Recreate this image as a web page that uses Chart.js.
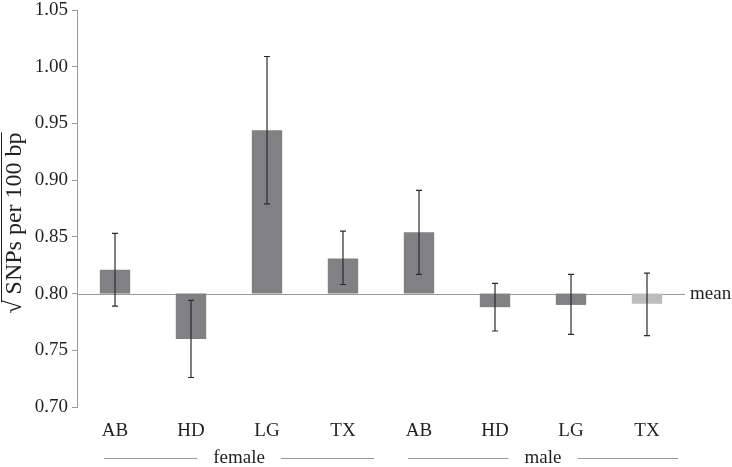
<!DOCTYPE html>
<html>
<head>
<meta charset="utf-8">
<script src="https://cdn.jsdelivr.net/npm/chart.js@4"></script>
<style>
  html, body { margin: 0; padding: 0; background: #fff; }
  #wrap { width: 732px; height: 467px; }
</style>
</head>
<body>
<div id="wrap"><canvas id="myChart"></canvas></div>
<script>
// data
const categories = ['AB', 'HD', 'LG', 'TX', 'AB', 'HD', 'LG', 'TX'];
const sexGroups = ['female', 'male'];
const groupOf = [0, 0, 0, 0, 1, 1, 1, 1];
const meanValue = 0.80;
const barValues = [0.821, 0.760, 0.944, 0.831, 0.854, 0.788, 0.790, 0.791];
const errLow = [0.789, 0.726, 0.879, 0.808, 0.817, 0.767, 0.764, 0.763];
const errHigh = [0.853, 0.794, 1.009, 0.855, 0.891, 0.809, 0.817, 0.818];
const barColors = ['#818184', '#818184', '#818184', '#818184', '#818184', '#818184', '#818184', '#bdbdbf'];

const textColor = '#231f20';
const axisGray = '#9a9a9a';
const fontFam = '"Liberation Serif", "Times New Roman", serif';

const ctx = document.getElementById('myChart');

// error bars
const errorBars = {
  id: 'errorBars',
  afterDatasetsDraw(chart) {
    const c = chart.ctx;
    const x = chart.scales.x, y = chart.scales.y;
    c.save();
    c.strokeStyle = '#2b2b2b';
    c.lineWidth = 1.2;
    barValues.forEach((v, i) => {
      const px = x.getPixelForValue(i);
      const top = y.getPixelForValue(errHigh[i]);
      const bot = y.getPixelForValue(errLow[i]);
      c.beginPath();
      c.moveTo(px, top); c.lineTo(px, bot);
      c.moveTo(px - 3, top); c.lineTo(px + 3, top);
      c.moveTo(px - 3, bot); c.lineTo(px + 3, bot);
      c.stroke();
    });
    c.restore();
  }
};

// mean line, axis title and group labels
const decorations = {
  id: 'decorations',
  beforeDatasetsDraw(chart) {
    const c = chart.ctx;
    const area = chart.chartArea;
    const my = Math.round(chart.scales.y.getPixelForValue(meanValue)) + 0.5;
    c.save();
    c.strokeStyle = axisGray;
    c.lineWidth = 1;
    c.beginPath();
    c.moveTo(area.left, my);
    c.lineTo(area.right, my);
    c.stroke();
    c.restore();
  },
  afterDraw(chart) {
    const c = chart.ctx;
    const area = chart.chartArea;
    const x = chart.scales.x;
    const my = chart.scales.y.getPixelForValue(meanValue);
    c.save();
    c.fillStyle = textColor;
    c.font = '19px ' + fontFam;
    c.textBaseline = 'middle';
    c.textAlign = 'left';
    c.fillText('mean', area.right + 5, my);

    // y title
    c.save();
    c.font = '24px ' + fontFam;
    c.textBaseline = 'alphabetic';
    c.translate(21, 223);
    c.rotate(-Math.PI / 2);
    c.textAlign = 'left';
    const t1 = '\u221A ';
    const t2 = 'SNPs per 100 bp';
    const w1 = c.measureText(t1).width;
    const w2 = c.measureText(t2).width;
    const start = -(w1 + w2) / 2;
    c.fillText(t1, start, 0);
    c.fillText(t2, start + w1, 0);
    c.strokeStyle = textColor;
    c.lineWidth = 1;
    c.beginPath();
    c.moveTo(start + w1 - 8, -19.5);
    c.lineTo(start + w1 + w2, -19.5);
    c.stroke();
    c.restore();

    // group labels with lines
    const gy = 458;
    const span = x.width / categories.length;
    sexGroups.forEach((g, gi) => {
      const idx = groupOf.map((v, i) => v === gi ? i : -1).filter(i => i >= 0);
      const mid = (x.getPixelForValue(idx[0]) + x.getPixelForValue(idx[idx.length - 1])) / 2 + 10;
      const halfLen = span * idx.length / 2 - 17;
      const tw = c.measureText(g).width;
      c.textAlign = 'center';
      c.fillText(g, mid, gy);
      c.strokeStyle = axisGray;
      c.lineWidth = 1;
      c.beginPath();
      c.moveTo(mid - halfLen, gy + 0.5); c.lineTo(mid - tw / 2 - 16, gy + 0.5);
      c.moveTo(mid + tw / 2 + 16, gy + 0.5); c.lineTo(mid + halfLen, gy + 0.5);
      c.stroke();
    });
    c.restore();
  }
};

new Chart(ctx, {
  type: 'bar',
  data: {
    labels: categories,
    datasets: [{
      data: barValues.map(v => [meanValue, v]),
      backgroundColor: barColors,
      borderWidth: 0,
      borderSkipped: false,
      categoryPercentage: 1,
      barPercentage: 0.4
    }]
  },
  options: {
    responsive: true,
    maintainAspectRatio: false,
    animation: false,
    layout: { padding: { top: 10, right: 47, left: 0, bottom: 0 } },
    plugins: { legend: { display: false }, tooltip: { enabled: false } },
    scales: {
      x: {
        grid: { display: false },
        border: { display: false },
        ticks: { color: textColor, font: { family: fontFam, size: 19 }, padding: 5 },
        afterFit(scale) { scale.height = 60; }
      },
      y: {
        min: 0.70,
        max: 1.05,
        border: { display: true, color: axisGray, width: 1 },
        grid: { drawOnChartArea: false, color: axisGray, tickLength: 5 },
        ticks: {
          stepSize: 0.05,
          color: textColor,
          font: { family: fontFam, size: 19 },
          padding: 4,
          callback: (v) => Number(v).toFixed(2)
        },
        afterFit(scale) {
          scale.width = 77;
          scale.paddingTop = 0;
          scale.paddingBottom = 0;
        }
      }
    }
  },
  plugins: [decorations, errorBars]
});
</script>
</body>
</html>
